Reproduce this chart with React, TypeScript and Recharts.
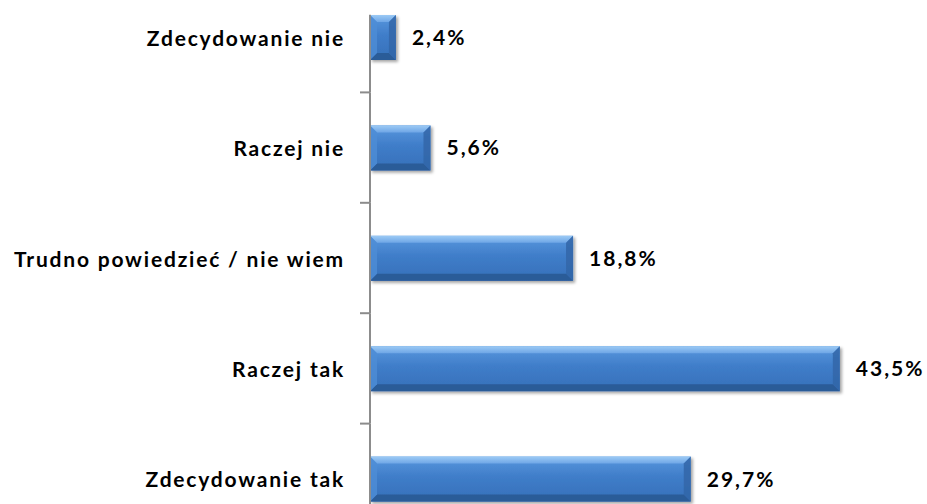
import { BarChart, Bar, XAxis, YAxis, LabelList } from "recharts";

const categories = [
  "Zdecydowanie nie",
  "Raczej nie",
  "Trudno powiedzieć / nie wiem",
  "Raczej tak",
  "Zdecydowanie tak",
];
const values = [2.4, 5.6, 18.8, 43.5, 29.7];

const data = categories.map((name, i) => ({ name, value: values[i] }));

const FONT = "Lato, 'Open Sans', sans-serif";
const BAND = 552 / categories.length;
const BAR = 45;

// draws the label, the axis line segment and the boundary tick for each category
function CategoryTick(props: any) {
  const { x, y, payload, index } = props;
  const top = index === 0 ? y - BAR / 2 : y - BAND / 2;
  return (
    <g>
      <text
        x={x - 25}
        y={y}
        textAnchor="end"
        dominantBaseline="central"
        fontFamily={FONT}
        fontWeight={700}
        fontSize={21}
        letterSpacing={1.8}
        fill="#000"
      >
        {payload.value}
      </text>
      <line x1={x} x2={x} y1={top} y2={y + BAND / 2} stroke="#8c8c8c" strokeWidth={2} />
      {index > 0 && (
        <line x1={x - 10} x2={x} y1={y - BAND / 2} y2={y - BAND / 2} stroke="#8c8c8c" strokeWidth={2} />
      )}
    </g>
  );
}

function BevelBar(props: any) {
  const { x, y, width, height } = props;
  if (!width || width <= 0) return null;
  const b = Math.min(7, width / 2);
  return (
    <g filter="url(#barShadow)">
      <rect x={x} y={y} width={width} height={height} fill="url(#barFill)" />
      <polygon
        points={`${x},${y} ${x + width},${y} ${x + width - b},${y + b} ${x + b},${y + b}`}
        fill="url(#topBevel)"
      />
      <polygon
        points={`${x},${y + height} ${x + width},${y + height} ${x + width - b},${y + height - b} ${x + b},${y + height - b}`}
        fill="#2c5b98"
      />
      <polygon
        points={`${x},${y} ${x + b},${y + b} ${x + b},${y + height - b} ${x},${y + height}`}
        fill="#4f8dd6"
        opacity={0.8}
      />
      <polygon
        points={`${x + width},${y} ${x + width - b},${y + b} ${x + width - b},${y + height - b} ${x + width},${y + height}`}
        fill="#3366a8"
        opacity={0.85}
      />
    </g>
  );
}

const fmt = (v: any) => `${Number(v).toFixed(1).replace(".", ",")}%`;

export default function App() {
  return (
    <div
      style={{
        position: "fixed",
        left: 0,
        top: 0,
        width: 927,
        height: 504,
        overflow: "hidden",
        background: "#fff",
      }}
    >
      <div style={{ position: "absolute", left: 0, top: -18 }}>
        <BarChart
          width={927}
          height={552}
          layout="vertical"
          data={data}
          margin={{ top: 0, right: 17, bottom: 0, left: 0 }}
        >
          <defs>
            <linearGradient id="barFill" x1="0" y1="0" x2="0" y2="1">
              <stop offset="0%" stopColor="#5a98de" />
              <stop offset="45%" stopColor="#3f7dc9" />
              <stop offset="100%" stopColor="#3670b9" />
            </linearGradient>
            <linearGradient id="topBevel" x1="0" y1="0" x2="0" y2="1">
              <stop offset="0%" stopColor="#9ccaf5" />
              <stop offset="100%" stopColor="#6ea6e6" />
            </linearGradient>
            <filter id="barShadow" x="-10%" y="-20%" width="130%" height="160%">
              <feDropShadow dx="2" dy="2" stdDeviation="1.5" floodColor="#000" floodOpacity="0.35" />
            </filter>
          </defs>
          <XAxis type="number" domain={[0, 50]} hide />
          <YAxis
            type="category"
            dataKey="name"
            width={370}
            tickSize={0}
            tickMargin={0}
            tickLine={false}
            axisLine={false}
            tick={<CategoryTick />}
            interval={0}
          />
          <Bar dataKey="value" barSize={BAR} shape={<BevelBar />} isAnimationActive={false}>
            <LabelList
              dataKey="value"
              position="right"
              offset={16}
              formatter={fmt}
              fill="#000"
              fontFamily={FONT}
              fontWeight={700}
              fontSize={21}
              letterSpacing={2}
            />
          </Bar>
        </BarChart>
      </div>
    </div>
  );
}
